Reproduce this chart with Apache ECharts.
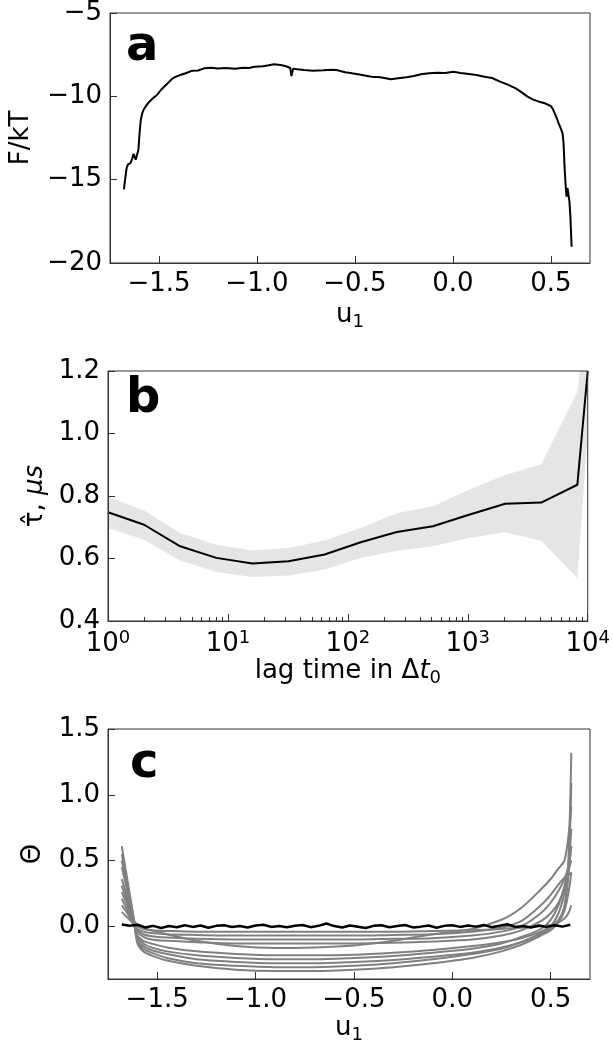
<!DOCTYPE html>
<html lang="en">
<head>
    <meta charset="UTF-8" />
    <title>u1 free energy, tau and theta</title>
    <script src="https://cdn.jsdelivr.net/npm/echarts@6/dist/echarts.min.js"></script>
    <style>
        html, body { margin: 0; padding: 0; background: #fff; }
    </style>
</head>
<body>
    <div id="main" style="width: 613px; height: 1045px"></div>
    <script>
        // ---- panel a: free energy along u1 ----
        var aU = [-1.679, -1.673, -1.665, -1.659, -1.652, -1.645, -1.637, -1.630, -1.625, -1.619,
            -1.612, -1.605, -1.599, -1.593, -1.585, -1.579, -1.565, -1.549, -1.530, -1.510,
            -1.490, -1.470, -1.450, -1.430, -1.410, -1.391, -1.360, -1.331, -1.300, -1.270,
            -1.231, -1.200, -1.160, -1.112, -1.070, -1.040, -1.012, -0.970, -0.940, -0.913,
            -0.880, -0.850, -0.830, -0.824, -0.815, -0.794, -0.760, -0.714, -0.660, -0.620,
            -0.594, -0.550, -0.515, -0.470, -0.415, -0.370, -0.316, -0.280, -0.236, -0.200,
            -0.157, -0.120, -0.077, -0.040, 0.003, 0.040, 0.082, 0.120, 0.162, 0.200,
            0.241, 0.280, 0.321, 0.350, 0.381, 0.410, 0.440, 0.470, 0.500, 0.510,
            0.520, 0.530, 0.540, 0.550, 0.560, 0.565, 0.570, 0.575, 0.580, 0.585,
            0.590, 0.595, 0.600, 0.606];
        var aF = [-15.58, -15.0, -14.3, -14.1, -14.15, -14.0, -13.75, -13.46, -13.6, -13.8,
            -13.5, -13.2, -12.2, -11.42, -11.0, -10.82, -10.55, -10.32, -10.1, -9.92,
            -9.62, -9.38, -9.15, -8.92, -8.8, -8.72, -8.6, -8.46, -8.45, -8.32,
            -8.28, -8.33, -8.3, -8.34, -8.28, -8.3, -8.22, -8.2, -8.14, -8.08,
            -8.12, -8.2, -8.3, -8.78, -8.35, -8.38, -8.42, -8.46, -8.44, -8.4,
            -8.42, -8.55, -8.62, -8.7, -8.82, -8.85, -8.98, -8.92, -8.86, -8.78,
            -8.66, -8.62, -8.58, -8.6, -8.52, -8.6, -8.66, -8.72, -8.82, -8.9,
            -9.12, -9.3, -9.52, -9.75, -10.02, -10.2, -10.32, -10.42, -10.58, -10.75,
            -11.02, -11.3, -11.62, -11.9, -12.22, -12.8, -14.22, -15.2, -16.02, -15.5,
            -15.42, -16.3, -17.22, -19.02];

        // ---- panel b: tau estimate vs lag time ----
        var lagTimes = [1, 2, 4, 8, 16, 32, 64, 128, 256, 512, 1024, 2048, 4096, 8192, 10000];
        var tauMean = [0.748, 0.708, 0.639, 0.602, 0.584, 0.591, 0.613, 0.652, 0.685, 0.703, 0.740, 0.775, 0.779, 0.836, 1.2];
        var tauLow = [0.698, 0.660, 0.594, 0.557, 0.541, 0.546, 0.565, 0.602, 0.625, 0.639, 0.666, 0.684, 0.657, 0.538, 1.0];
        var tauHigh = [0.798, 0.754, 0.682, 0.644, 0.626, 0.634, 0.658, 0.698, 0.745, 0.767, 0.820, 0.867, 0.901, 1.133, 1.4];
        var lagMinor = [2, 3, 4, 5, 6, 7, 8, 9, 20, 30, 40, 50, 60, 70, 80, 90,
            200, 300, 400, 500, 600, 700, 800, 900, 2000, 3000, 4000, 5000, 6000, 7000, 8000, 9000];

        // ---- panel c: theta along u1 ----
        var cU = [-1.68, -1.66, -1.64, -1.62, -1.60, -1.57, -1.53, -1.45, -1.3, -1.1, -0.9, -0.7,
            -0.5, -0.3, -0.1, 0.1, 0.25, 0.35, 0.45, 0.5, 0.54, 0.57, 0.59, 0.605];
        var theta1 = [0.11, 0.08, 0.05, 0.02, 0.0, -0.02, -0.03, -0.035, -0.04, -0.04, -0.04, -0.04,
            -0.04, -0.04, -0.035, -0.03, -0.02, -0.01, 0.0, 0.01, 0.03, 0.06, 0.1, 0.16];
        var theta2 = [0.16, 0.12, 0.07, 0.02, -0.02, -0.04, -0.05, -0.06, -0.065, -0.07, -0.07, -0.07,
            -0.07, -0.065, -0.06, -0.04, -0.01, 0.04, 0.16, 0.24, 0.32, 0.37, 0.39, 0.41];
        var theta3 = [0.21, 0.15, 0.09, 0.03, -0.03, -0.06, -0.075, -0.085, -0.095, -0.1, -0.1, -0.1,
            -0.1, -0.095, -0.09, -0.07, -0.04, 0.0, 0.1, 0.18, 0.27, 0.36, 0.45, 0.61];
        var theta4 = [0.26, 0.19, 0.11, 0.04, -0.04, -0.08, -0.1, -0.11, -0.12, -0.13, -0.13, -0.13,
            -0.13, -0.125, -0.115, -0.1, -0.07, -0.03, 0.04, 0.1, 0.18, 0.3, 0.46, 0.74];
        var theta5 = [0.31, 0.22, 0.13, 0.05, 0.01, -0.01, -0.03, -0.06, -0.11, -0.15, -0.165, -0.16,
            -0.145, -0.11, -0.06, -0.02, 0.05, 0.14, 0.28, 0.36, 0.44, 0.5, 0.68, 0.91];
        var theta6 = [0.36, 0.26, 0.14, 0.03, -0.07, -0.11, -0.13, -0.16, -0.19, -0.21, -0.22, -0.22,
            -0.215, -0.2, -0.18, -0.15, -0.12, -0.09, -0.04, 0.0, 0.05, 0.15, 0.4, 1.09];
        var theta7 = [0.45, 0.32, 0.18, 0.04, -0.08, -0.13, -0.16, -0.19, -0.22, -0.24, -0.25, -0.25,
            -0.24, -0.225, -0.2, -0.17, -0.13, -0.08, -0.02, 0.05, 0.16, 0.3, 0.42, 0.5];
        var theta8 = [0.5, 0.36, 0.2, 0.05, -0.1, -0.15, -0.18, -0.21, -0.25, -0.27, -0.28, -0.28,
            -0.27, -0.255, -0.23, -0.2, -0.16, -0.12, -0.06, -0.02, 0.04, 0.15, 0.5, 1.32];
        var theta9 = [0.55, 0.4, 0.23, 0.06, -0.12, -0.17, -0.2, -0.24, -0.28, -0.3, -0.31, -0.31,
            -0.3, -0.28, -0.25, -0.21, -0.17, -0.12, -0.05, 0.0, 0.1, 0.25, 0.42, 0.61];
        var theta10 = [0.61, 0.43, 0.25, 0.07, -0.13, -0.19, -0.22, -0.26, -0.3, -0.33, -0.34, -0.34,
            -0.33, -0.31, -0.28, -0.24, -0.19, -0.14, -0.07, -0.03, 0.03, 0.12, 0.25, 0.41];
        var thetaCurves = [theta1, theta2, theta3, theta4, theta5, theta6, theta7, theta8, theta9, theta10];

        var cBlackU = [-1.68, -1.64, -1.60, -1.56, -1.52, -1.48, -1.44, -1.40, -1.36, -1.32,
            -1.28, -1.24, -1.20, -1.16, -1.12, -1.08, -1.04, -1.00, -0.96, -0.92,
            -0.88, -0.84, -0.80, -0.76, -0.72, -0.68, -0.64, -0.60, -0.56, -0.52,
            -0.48, -0.44, -0.40, -0.36, -0.32, -0.28, -0.24, -0.20, -0.16, -0.12,
            -0.08, -0.04, 0.00, 0.04, 0.08, 0.12, 0.16, 0.20, 0.24, 0.28,
            0.32, 0.36, 0.40, 0.44, 0.48, 0.52, 0.56, 0.60];
        var cBlack = [0.015, 0.005, 0.012, -0.008, 0.004, -0.012, 0.003, -0.006, 0.008, -0.004,
            0.006, -0.010, 0.004, 0.009, -0.005, 0.002, -0.008, 0.006, 0.012, -0.004,
            0.003, -0.007, 0.005, 0.010, -0.006, 0.004, 0.022, 0.002, -0.008, 0.006,
            -0.003, -0.012, 0.004, 0.008, -0.006, 0.002, 0.010, -0.008, -0.002, 0.006,
            -0.010, 0.004, 0.008, -0.004, 0.006, -0.002, 0.010, -0.006, 0.004, 0.016,
            -0.004, 0.002, -0.008, 0.006, -0.004, 0.008, -0.002, 0.012];

        var uTicks = [-1.5, -1.0, -0.5, 0.0, 0.5];
        var thetaTicks = [0.0, 0.5, 1.0, 1.5];

        var FONT = 'DejaVu Sans';
        var SPINE = '#333';

        function pairs(xs, ys) {
            return xs.map(function (x, i) { return [x, ys[i]]; });
        }
        function fmt(v, d) {
            return v.toFixed(d).replace('-', '\u2212');
        }

        var labelStyle = { fontSize: 26, color: '#000', fontFamily: FONT, margin: 8 };
        var nameStyle = {
            fontSize: 26, color: '#000', fontFamily: FONT,
            rich: {
                n: { fontSize: 26, fontFamily: FONT, color: '#000' },
                i: { fontSize: 26, fontFamily: FONT, color: '#000', fontStyle: 'italic' },
                s: { fontSize: 18, fontFamily: FONT, color: '#000', padding: [13, 0, 0, 0] }
            }
        };

        function axisBase(gridIndex) {
            return {
                gridIndex: gridIndex,
                z: 4,
                axisLine: { show: true, onZero: false, lineStyle: { color: SPINE, width: 1 } },
                axisTick: { show: true, inside: true, length: 7, lineStyle: { color: SPINE, width: 1 } },
                splitLine: { show: false },
                nameLocation: 'middle',
                nameTextStyle: nameStyle
            };
        }

        function uAxis(gridIndex, gap) {
            var ax = axisBase(gridIndex);
            ax.type = 'value';
            ax.min = -1.75;
            ax.max = 0.7;
            ax.axisTick.customValues = uTicks;
            ax.axisLabel = Object.assign({ customValues: uTicks, formatter: function (v) { return fmt(v, 1); } }, labelStyle);
            ax.name = '{n|u}{s|1}';
            ax.nameGap = gap;
            return ax;
        }

        var xA = uAxis(0, 37);
        var xC = uAxis(2, 34);

        var xB = axisBase(1);
        xB.type = 'log';
        xB.logBase = 10;
        xB.min = 1;
        xB.max = 10000;
        xB.axisLabel = Object.assign({}, labelStyle, {
            formatter: function (v) { return '{b|10}{e|' + Math.round(Math.log10(v)) + '}'; },
            rich: {
                b: { fontSize: 26, fontFamily: FONT, color: '#000' },
                e: { fontSize: 18, fontFamily: FONT, color: '#000', padding: [0, 0, 13, 0] }
            }
        });
        xB.name = '{n|lag time in \u0394}{i|t}{s|0}';
        xB.nameGap = 34;

        // minor ticks for the log axis
        var xBMinor = {
            type: 'log', logBase: 10, gridIndex: 1, min: 1, max: 10000, position: 'bottom', z: 4,
            axisLine: { show: false },
            axisTick: { show: true, inside: true, length: 4, customValues: lagMinor, lineStyle: { color: SPINE } },
            axisLabel: { show: false },
            splitLine: { show: false }
        };

        var yA = axisBase(0);
        yA.type = 'value';
        yA.min = -20;
        yA.max = -5;
        yA.interval = 5;
        yA.axisLabel = Object.assign({ formatter: function (v) { return fmt(v, 0); } }, labelStyle);
        yA.name = 'F/kT';
        yA.nameGap = 76;

        var yB = axisBase(1);
        yB.type = 'value';
        yB.min = 0.4;
        yB.max = 1.2;
        yB.interval = 0.2;
        yB.axisLabel = Object.assign({ formatter: function (v) { return fmt(v, 1); } }, labelStyle);
        yB.name = '{n|\u03c4\u0302, }{i|\u03bcs}';
        yB.nameGap = 60;

        var yC = axisBase(2);
        yC.type = 'value';
        yC.min = -0.4;
        yC.max = 1.5;
        yC.axisTick.customValues = thetaTicks;
        yC.axisLabel = Object.assign({ customValues: thetaTicks, formatter: function (v) { return fmt(v, 1); } }, labelStyle);
        yC.name = '\u0398';
        yC.nameGap = 62;

        var gridBox = { show: true, z: 4, borderColor: SPINE, borderWidth: 1, backgroundColor: 'transparent', left: 108, width: 482 };

        var series = [
            {
                type: 'line', xAxisIndex: 0, yAxisIndex: 0, data: pairs(aU, aF),
                showSymbol: false, lineStyle: { color: '#000', width: 2 }, z: 3
            },
            // spread band: grey down to the axis, then white under the lower edge
            {
                type: 'line', xAxisIndex: 1, yAxisIndex: 1, data: pairs(lagTimes, tauHigh),
                showSymbol: false, lineStyle: { width: 0, opacity: 0 },
                areaStyle: { color: '#e5e5e5', opacity: 1, origin: 'start' }, z: 1
            },
            {
                type: 'line', xAxisIndex: 1, yAxisIndex: 1, data: pairs(lagTimes, tauLow),
                showSymbol: false, lineStyle: { width: 0, opacity: 0 },
                areaStyle: { color: '#ffffff', opacity: 1, origin: 'start' }, z: 1
            },
            {
                type: 'line', xAxisIndex: 1, yAxisIndex: 1, data: pairs(lagTimes, tauMean),
                showSymbol: false, lineStyle: { color: '#000', width: 2 }, z: 3
            }
        ];
        thetaCurves.forEach(function (curve) {
            series.push({
                type: 'line', xAxisIndex: 2, yAxisIndex: 2, data: pairs(cU, curve),
                showSymbol: false, smooth: 0.3, lineStyle: { color: '#808080', width: 2 }, z: 2
            });
        });
        series.push({
            type: 'line', xAxisIndex: 2, yAxisIndex: 2, data: pairs(cBlackU, cBlack),
            showSymbol: false, lineStyle: { color: '#000', width: 2.5 }, z: 3
        });

        var letterFont = 'bold 48px "DejaVu Sans"';

        var option = {
            animation: false,
            backgroundColor: '#fff',
            textStyle: { fontFamily: FONT },
            grid: [
                Object.assign({ top: 13, height: 250 }, gridBox),
                Object.assign({ top: 371, height: 250 }, gridBox),
                Object.assign({ top: 729, height: 251 }, gridBox)
            ],
            xAxis: [xA, xB, xC, xBMinor],
            yAxis: [yA, yB, yC],
            graphic: [
                { type: 'text', left: 126, top: 24, z: 100, style: { text: 'a', font: letterFont, fill: '#000' } },
                { type: 'text', left: 126, top: 376, z: 100, style: { text: 'b', font: letterFont, fill: '#000' } },
                { type: 'text', left: 130, top: 741, z: 100, style: { text: 'c', font: letterFont, fill: '#000' } }
            ],
            series: series
        };

        var chart = echarts.init(document.getElementById('main'));
        chart.setOption(option);
    </script>
</body>
</html>
